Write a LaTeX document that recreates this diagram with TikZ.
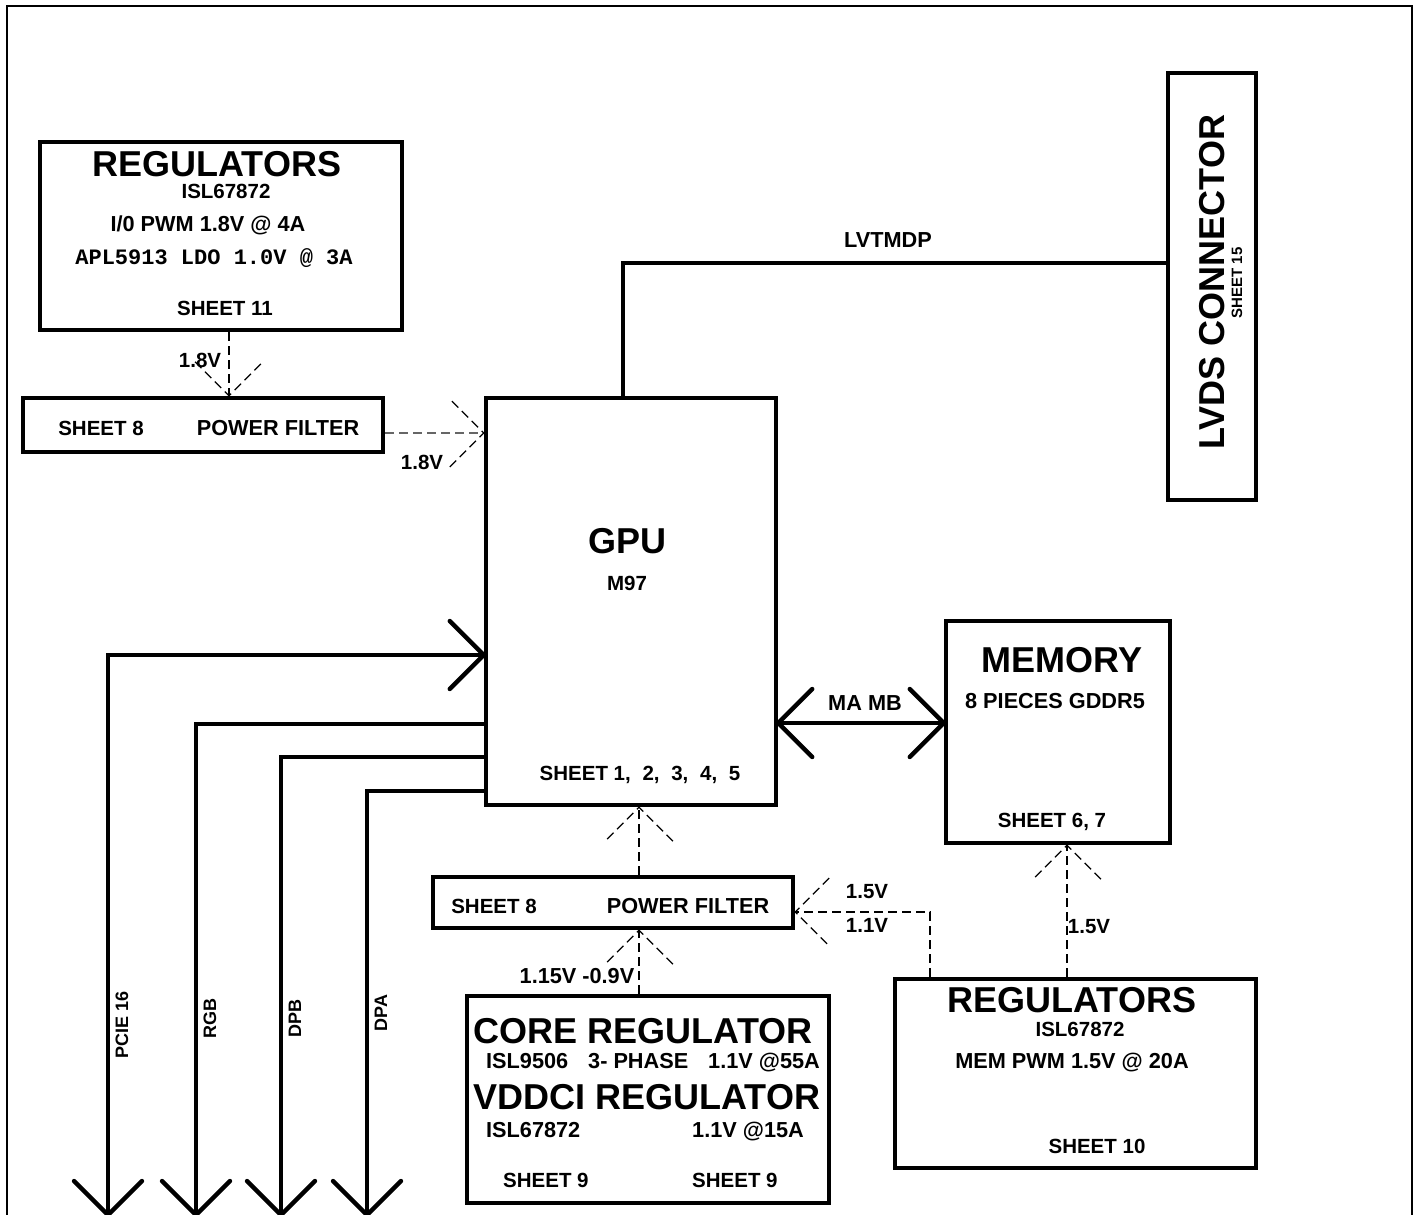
\documentclass[tikz,border=0pt]{standalone}
\usepackage{fontspec}
\setmainfont{Liberation Sans}
\newfontfamily\monob{Liberation Mono}
\usetikzlibrary{calc}
\newcommand\shead[2]{\draw[wire,line cap=round,line join=round] ($(#1)+(#2+135:48)$) -- (#1) -- ($(#1)+(#2-135:48)$);}
\newcommand\dhead[2]{\draw[dsh] ($(#1)+(#2+135:48)$) -- (#1) -- ($(#1)+(#2-135:48)$);}
\begin{document}
\begin{tikzpicture}[x=1pt,y=-1pt,
  box/.style={draw, line width=4.5pt, inner sep=0pt, rectangle},
  wire/.style={line width=4.5pt},
  dsh/.style={line width=1.3pt, dash pattern=on 9pt off 5pt},
  txt/.style={inner sep=0pt, anchor=base, font=\bfseries\fontsize{21.7}{24}\selectfont},
  txs/.style={inner sep=0pt, anchor=base, font=\bfseries\fontsize{20.5}{22}\selectfont},
  sm/.style={inner sep=0pt, anchor=base, font=\bfseries\fontsize{18}{20}\selectfont},
  big/.style={inner sep=0pt, anchor=base, font=\bfseries\fontsize{36}{40}\selectfont},
  mono/.style={inner sep=0pt, anchor=base, font=\monob\bfseries\fontsize{22}{24}\selectfont}]
\useasboundingbox (0,0) rectangle (1414,1215);
\fill[white] (0,0) rectangle (1414,1215);
\draw[line width=2pt] (7,1215) -- (7,6) -- (1412,6) -- (1412,1215);

% boxes
\node[box, minimum width=362pt, minimum height=188pt] (regA) at (221,236) {};
\node[box, minimum width=360pt, minimum height=54pt] (pfA) at (203,425) {};
\node[box, minimum width=290pt, minimum height=407pt] (gpu) at (631,601.5) {};
\node[box, minimum width=88pt, minimum height=427pt] (lvds) at (1212,286.5) {};
\node[box, minimum width=224pt, minimum height=222pt] (mem) at (1058,732) {};
\node[box, minimum width=360pt, minimum height=51pt] (pfB) at (613,902.5) {};
\node[box, minimum width=362pt, minimum height=207pt] (core) at (648,1099.5) {};
\node[box, minimum width=361pt, minimum height=189pt] (regB) at (1075.5,1073.5) {};

% texts regA
\node[big] (ra1) at (217,176) {REGULATORS};
\node[txs] (ra2) at (226,198) {ISL67872};
\node[txt] (ra3) at (208,231) {I/0 PWM 1.8V @ 4A};
\node[mono] (ra4) at (214,264) {APL5913 LDO 1.0V @ 3A};
\node[txs] (ra5) at (225,315) {SHEET 11};
% pfA
\node[txs] (pa1) at (101,435) {SHEET 8};
\node[txt] (pa2) at (278,435) {POWER FILTER};
\node[txs] (v1) at (200,367) {1.8V};
\node[txs] (v2) at (422,469) {1.8V};
% gpu
\node[big] (g1) at (627,553) {GPU};
\node[txs] (g2) at (627,590) {M97};
\node[txs] (g3) at (640,780) {SHEET 1,\hspace{6pt} 2,\hspace{6pt} 3,\hspace{6pt} 4,\hspace{6pt} 5};
\node[txt] (lv) at (888,247) {LVTMDP};
% lvds
\node[big, anchor=center, rotate=90] (l1) at (1212,282) {LVDS CONNECTOR};
\node[txt, anchor=center, rotate=90, font=\bfseries\fontsize{15}{17}\selectfont] (l2) at (1237,283) {SHEET 15};
% memory
\node[big] (m1) at (1062,672) {MEMORY};
\node[txt] (m2) at (1055,708) {8 PIECES GDDR5};
\node[txs] (m3) at (1052,827) {SHEET 6, 7};
\node[txt] (mamb) at (865,710) {MA MB};
% pfB
\node[txs] (pb1) at (494,913) {SHEET 8};
\node[txt] (pb2) at (688,913) {POWER FILTER};
\node[txs] (v3) at (867,898) {1.5V};
\node[txs] (v4) at (867,932) {1.1V};
\node[txs] (v5) at (1089,933) {1.5V};
\node[txt] (v6) at (577,983) {1.15V -0.9V};
% core
\node[big] (c1) at (643,1043) {CORE REGULATOR};
\node[txt, anchor=base west] (c2) at (486,1068) {ISL9506};
\node[txt, anchor=base west] (c3) at (588,1068) {3- PHASE};
\node[txt, anchor=base west] (c4) at (708,1068) {1.1V @55A};
\node[big] (c5) at (647,1109) {VDDCI REGULATOR};
\node[txt, anchor=base west] (c6) at (486,1137) {ISL67872};
\node[txt, anchor=base west] (c7) at (692,1137) {1.1V @15A};
\node[txs, anchor=base west] (c8) at (503,1187) {SHEET 9};
\node[txs, anchor=base west] (c9) at (692,1187) {SHEET 9};
% regB
\node[big] (rb1) at (1072,1012) {REGULATORS};
\node[txs] (rb2) at (1080,1036) {ISL67872};
\node[txt] (rb3) at (1072,1068) {MEM PWM 1.5V @ 20A};
\node[txs] (rb4) at (1097,1153) {SHEET 10};

% bus labels
\node[sm, anchor=center, rotate=90] (s1) at (122,1025) {PCIE 16};
\node[sm, anchor=center, rotate=90] (s2) at (210,1018) {RGB};
\node[sm, anchor=center, rotate=90] (s3) at (295,1018) {DPB};
\node[sm, anchor=center, rotate=90] (s4) at (381,1013) {DPA};

% solid connectors
\draw[wire] (623,0 |- gpu.north) -- (623,263) -- (lvds.west |- 0,263);
\coordinate (pin) at (gpu.west |- 0,655);
\coordinate (b1) at (108,1215);
\coordinate (b2) at (196,1215);
\coordinate (b3) at (281,1215);
\coordinate (b4) at (367,1215);
\draw[wire] (pin) -| (b1);
\draw[wire] (gpu.west |- 0,724) -| (b2);
\draw[wire] (gpu.west |- 0,757) -| (b3);
\draw[wire] (gpu.west |- 0,791) -| (b4);
\shead{pin}{0}
\shead{b1}{90}
\shead{b2}{90}
\shead{b3}{90}
\shead{b4}{90}
\coordinate (ma) at (gpu.east |- 0,723);
\coordinate (mb) at (mem.west |- 0,723);
\draw[wire] (ma) -- (mb);
\shead{ma}{180}
\shead{mb}{0}

% dashed connectors
\coordinate (dA) at (229,0 |- pfA.north);
\draw[dsh] (229,0 |- regA.south) -- (dA);
\dhead{dA}{90}
\coordinate (dB) at (gpu.west |- 0,433);
\draw[dsh, black!60] (pfA.east |- 0,433) -- (dB);
\dhead{dB}{0}
\coordinate (dC) at (639,0 |- gpu.south);
\draw[dsh] (639,0 |- pfB.north) -- (dC);
\dhead{dC}{-90}
\coordinate (dD) at (639,0 |- pfB.south);
\draw[dsh] (639,0 |- core.north) -- (dD);
\dhead{dD}{-90}
\coordinate (dE) at (pfB.east |- 0,912);
\draw[dsh] (930,0 |- regB.north) -- (930,912) -- (dE);
\dhead{dE}{180}
\coordinate (dF) at (1067,0 |- mem.south);
\draw[dsh] (1067,0 |- regB.north) -- (dF);
\dhead{dF}{-90}
\end{tikzpicture}
\end{document}
